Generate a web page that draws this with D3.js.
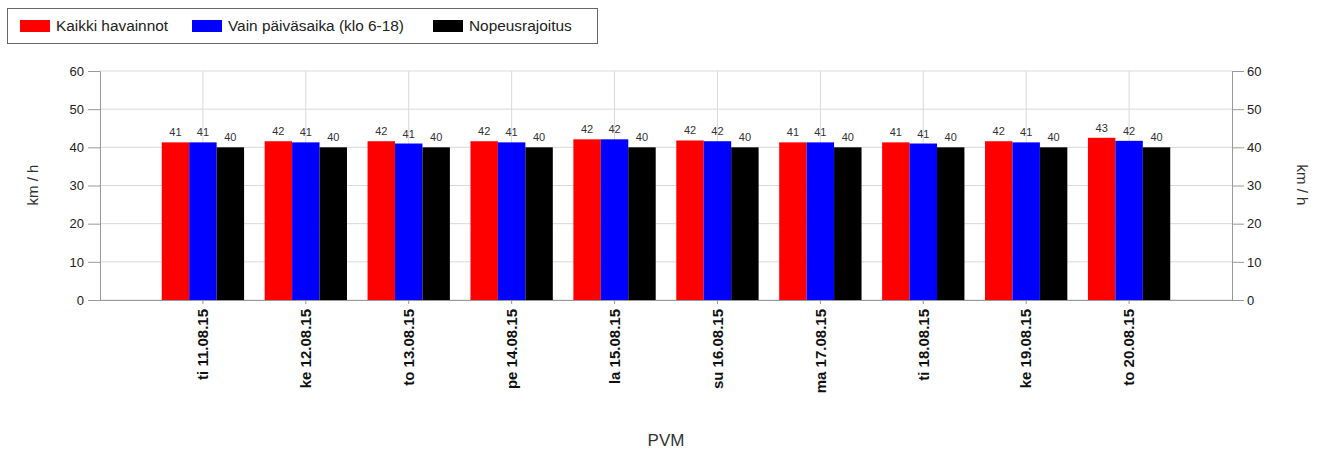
<!DOCTYPE html>
<html><head><meta charset="utf-8">
<script src="https://cdn.jsdelivr.net/npm/d3@7"></script>
<style>body{margin:0;background:#fff;} text{font-family:Arial,"Liberation Sans",sans-serif;}</style>
</head><body><svg id="c" width="1323" height="452"></svg>
<script>
const categories = ["ti 11.08.15","ke 12.08.15","to 13.08.15","pe 14.08.15","la 15.08.15","su 16.08.15","ma 17.08.15","ti 18.08.15","ke 19.08.15","to 20.08.15"];
const seriesNames = ["Kaikki havainnot","Vain päiväsaika (klo 6-18)","Nopeusrajoitus"];
const seriesColors = ["#ff0000","#0000ff","#000000"];
const allObs = [41.3,41.6,41.6,41.6,42.1,41.8,41.3,41.3,41.6,42.5];
const daytime = [41.3,41.3,41.0,41.3,42.1,41.6,41.3,41.0,41.3,41.7];
const limit = [40,40,40,40,40,40,40,40,40,40];
const yTicks = [0,10,20,30,40,50,60];
const series = [allObs, daytime, limit];

const svg = d3.select("#c");
const L=100,R=1232,T=71,B=300;
const x = d3.scaleBand().domain(categories).range([L,R]).paddingInner(0).paddingOuter(0.5);
const y = d3.scaleLinear().domain([0,60]).range([B,T]);
const barGroupW = x.bandwidth()*0.8;
const xs = d3.scaleBand().domain(d3.range(series.length)).range([-barGroupW/2, barGroupW/2]);

// gridlines
svg.append("g").selectAll("line").data(yTicks).join("line")
  .attr("x1",L).attr("x2",R).attr("y1",d=>y(d)).attr("y2",d=>y(d))
  .attr("stroke","#d9d9d9").attr("stroke-width",1);
svg.append("g").selectAll("line").data(categories).join("line")
  .attr("x1",d=>x(d)+x.bandwidth()/2).attr("x2",d=>x(d)+x.bandwidth()/2).attr("y1",T).attr("y2",B)
  .attr("stroke","#d9d9d9").attr("stroke-width",1);

// bars
series.forEach((s,si)=>{
  const g = svg.append("g");
  g.selectAll("rect").data(s).join("rect")
    .attr("x",(d,i)=>x(categories[i])+x.bandwidth()/2+xs(si))
    .attr("width",xs.bandwidth())
    .attr("y",d=>y(d)).attr("height",d=>y(0)-y(d))
    .attr("fill",seriesColors[si]);
  g.selectAll("text").data(s).join("text")
    .attr("x",(d,i)=>x(categories[i])+x.bandwidth()/2+xs(si)+xs.bandwidth()/2)
    .attr("y",d=>y(d)-6)
    .attr("text-anchor","middle").attr("font-size",11).attr("fill","#333")
    .text(d=>d3.format(".0f")(d));
});

// axes
const axisCol="#999";
function styleAxis(g){ g.select(".domain").attr("stroke",axisCol); g.selectAll(".tick line").attr("stroke",axisCol); g.selectAll(".tick text").attr("fill","#222").attr("font-size",13).attr("font-family","Arial, Liberation Sans, sans-serif"); }
svg.append("g").attr("transform",`translate(${L},0)`).call(d3.axisLeft(y).tickValues(yTicks).tickSize(12).tickSizeOuter(0).tickPadding(4)).call(styleAxis);
svg.append("g").attr("transform",`translate(${R},0)`).call(d3.axisRight(y).tickValues(yTicks).tickSize(12).tickSizeOuter(0).tickPadding(3)).call(styleAxis);
const xa = svg.append("g").attr("transform",`translate(0,${B})`).call(d3.axisBottom(x).tickSize(4).tickSizeOuter(0)).call(styleAxis);
xa.selectAll(".tick text").attr("font-size",15).attr("font-weight","bold").attr("fill","#111")
  .attr("transform","rotate(-90)").attr("text-anchor","end").attr("x",-9).attr("y",0).attr("dy","0.35em");

// axis titles
svg.append("text").attr("transform",`translate(38,185) rotate(-90)`).attr("text-anchor","middle").attr("font-size",15).attr("fill","#333").text("km / h");
svg.append("text").attr("transform",`translate(1297,185) rotate(90)`).attr("text-anchor","middle").attr("font-size",15).attr("fill","#333").text("km / h");
svg.append("text").attr("x",666).attr("y",446).attr("text-anchor","middle").attr("font-size",17).attr("fill","#333").text("PVM");

// legend
const lg = svg.append("g");
lg.append("rect").attr("x",7.5).attr("y",8.5).attr("width",590).attr("height",35).attr("fill","#fff").attr("stroke","#666");
const legX=[20,192,433];
seriesNames.forEach((n,i)=>{
  lg.append("rect").attr("x",legX[i]).attr("y",20).attr("width",30).attr("height",12).attr("fill",seriesColors[i]);
  lg.append("text").attr("x",legX[i]+36).attr("y",26).attr("dy","0.35em").attr("font-size",15.4).attr("fill","#222").text(n);
});
</script></body></html>
